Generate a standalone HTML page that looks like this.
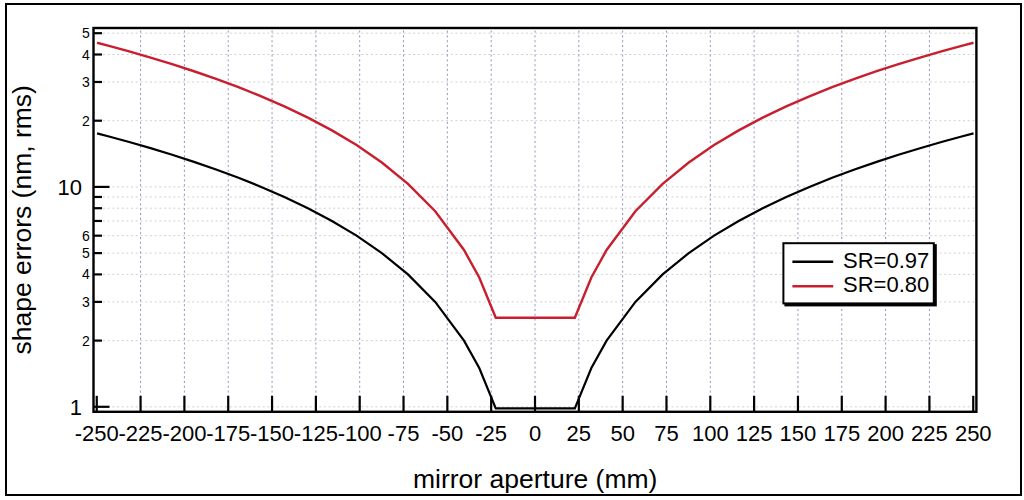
<!DOCTYPE html><html><head><meta charset="utf-8"><style>html,body{margin:0;padding:0;background:#fff;}svg{display:block;}text{font-family:"Liberation Sans",sans-serif;}</style></head><body>
<svg width="1024" height="500" viewBox="0 0 1024 500">
<rect x="0" y="0" width="1024" height="500" fill="#fff"/>
<rect x="6" y="4" width="1015" height="491" fill="none" stroke="#000" stroke-width="2"/>
<line x1="93.5" y1="406.80" x2="976.4" y2="406.80" stroke="#d0d0d4" stroke-width="1" stroke-dasharray="2 2.7"/>
<line x1="93.5" y1="340.60" x2="976.4" y2="340.60" stroke="#d0d0d4" stroke-width="1" stroke-dasharray="2 2.7"/>
<line x1="93.5" y1="301.88" x2="976.4" y2="301.88" stroke="#d0d0d4" stroke-width="1" stroke-dasharray="2 2.7"/>
<line x1="93.5" y1="274.41" x2="976.4" y2="274.41" stroke="#d0d0d4" stroke-width="1" stroke-dasharray="2 2.7"/>
<line x1="93.5" y1="253.10" x2="976.4" y2="253.10" stroke="#d0d0d4" stroke-width="1" stroke-dasharray="2 2.7"/>
<line x1="93.5" y1="235.68" x2="976.4" y2="235.68" stroke="#d0d0d4" stroke-width="1" stroke-dasharray="2 2.7"/>
<line x1="93.5" y1="220.96" x2="976.4" y2="220.96" stroke="#d0d0d4" stroke-width="1" stroke-dasharray="2 2.7"/>
<line x1="93.5" y1="208.21" x2="976.4" y2="208.21" stroke="#d0d0d4" stroke-width="1" stroke-dasharray="2 2.7"/>
<line x1="93.5" y1="196.96" x2="976.4" y2="196.96" stroke="#d0d0d4" stroke-width="1" stroke-dasharray="2 2.7"/>
<line x1="93.5" y1="186.90" x2="976.4" y2="186.90" stroke="#d0d0d4" stroke-width="1" stroke-dasharray="2 2.7"/>
<line x1="93.5" y1="120.70" x2="976.4" y2="120.70" stroke="#d0d0d4" stroke-width="1" stroke-dasharray="2 2.7"/>
<line x1="93.5" y1="81.98" x2="976.4" y2="81.98" stroke="#d0d0d4" stroke-width="1" stroke-dasharray="2 2.7"/>
<line x1="93.5" y1="54.51" x2="976.4" y2="54.51" stroke="#d0d0d4" stroke-width="1" stroke-dasharray="2 2.7"/>
<line x1="93.5" y1="33.20" x2="976.4" y2="33.20" stroke="#d0d0d4" stroke-width="1" stroke-dasharray="2 2.7"/>
<line x1="140.57" y1="28" x2="140.57" y2="411.8" stroke="#9090c0" stroke-width="1" stroke-dasharray="2 2.8" stroke-dashoffset="2.2"/>
<line x1="184.40" y1="28" x2="184.40" y2="411.8" stroke="#9090c0" stroke-width="1" stroke-dasharray="2 2.8" stroke-dashoffset="2.2"/>
<line x1="228.22" y1="28" x2="228.22" y2="411.8" stroke="#9090c0" stroke-width="1" stroke-dasharray="2 2.8" stroke-dashoffset="2.2"/>
<line x1="272.05" y1="28" x2="272.05" y2="411.8" stroke="#9090c0" stroke-width="1" stroke-dasharray="2 2.8" stroke-dashoffset="2.2"/>
<line x1="315.88" y1="28" x2="315.88" y2="411.8" stroke="#9090c0" stroke-width="1" stroke-dasharray="2 2.8" stroke-dashoffset="2.2"/>
<line x1="359.70" y1="28" x2="359.70" y2="411.8" stroke="#9090c0" stroke-width="1" stroke-dasharray="2 2.8" stroke-dashoffset="2.2"/>
<line x1="403.52" y1="28" x2="403.52" y2="411.8" stroke="#9090c0" stroke-width="1" stroke-dasharray="2 2.8" stroke-dashoffset="2.2"/>
<line x1="447.35" y1="28" x2="447.35" y2="411.8" stroke="#9090c0" stroke-width="1" stroke-dasharray="2 2.8" stroke-dashoffset="2.2"/>
<line x1="491.18" y1="28" x2="491.18" y2="411.8" stroke="#9090c0" stroke-width="1" stroke-dasharray="2 2.8" stroke-dashoffset="2.2"/>
<line x1="535.00" y1="28" x2="535.00" y2="411.8" stroke="#9090c0" stroke-width="1" stroke-dasharray="2 2.8" stroke-dashoffset="2.2"/>
<line x1="578.83" y1="28" x2="578.83" y2="411.8" stroke="#9090c0" stroke-width="1" stroke-dasharray="2 2.8" stroke-dashoffset="2.2"/>
<line x1="622.65" y1="28" x2="622.65" y2="411.8" stroke="#9090c0" stroke-width="1" stroke-dasharray="2 2.8" stroke-dashoffset="2.2"/>
<line x1="666.48" y1="28" x2="666.48" y2="411.8" stroke="#9090c0" stroke-width="1" stroke-dasharray="2 2.8" stroke-dashoffset="2.2"/>
<line x1="710.30" y1="28" x2="710.30" y2="411.8" stroke="#9090c0" stroke-width="1" stroke-dasharray="2 2.8" stroke-dashoffset="2.2"/>
<line x1="754.12" y1="28" x2="754.12" y2="411.8" stroke="#9090c0" stroke-width="1" stroke-dasharray="2 2.8" stroke-dashoffset="2.2"/>
<line x1="797.95" y1="28" x2="797.95" y2="411.8" stroke="#9090c0" stroke-width="1" stroke-dasharray="2 2.8" stroke-dashoffset="2.2"/>
<line x1="841.78" y1="28" x2="841.78" y2="411.8" stroke="#9090c0" stroke-width="1" stroke-dasharray="2 2.8" stroke-dashoffset="2.2"/>
<line x1="885.60" y1="28" x2="885.60" y2="411.8" stroke="#9090c0" stroke-width="1" stroke-dasharray="2 2.8" stroke-dashoffset="2.2"/>
<line x1="929.42" y1="28" x2="929.42" y2="411.8" stroke="#9090c0" stroke-width="1" stroke-dasharray="2 2.8" stroke-dashoffset="2.2"/>
<polyline points="97.05,133.32 108.07,136.22 129.20,142.01 150.55,148.18 172.13,154.77 193.96,161.84 216.07,169.49 238.48,177.80 261.23,186.90 284.36,196.96 307.90,208.21 331.94,220.96 356.55,235.68 381.84,253.10 407.97,274.41 435.21,301.88 464.00,340.60 479.25,368.08 495.77,408.40 574.83,408.40 591.35,368.08 606.60,340.60 635.39,301.88 662.63,274.41 688.76,253.10 714.05,235.68 738.66,220.96 762.70,208.21 786.24,196.96 809.37,186.90 832.12,177.80 854.53,169.49 876.64,161.84 898.47,154.77 920.05,148.18 941.40,142.01 962.53,136.22 973.55,133.32" fill="none" stroke="#000" stroke-width="2.2" stroke-linejoin="miter"/>
<polyline points="97.05,42.72 108.07,45.62 129.20,51.41 150.55,57.58 172.13,64.17 193.96,71.24 216.07,78.89 238.48,87.20 261.23,96.30 284.36,106.36 307.90,117.61 331.94,130.36 356.55,145.08 381.84,162.50 407.97,183.81 435.21,211.28 464.00,250.00 479.25,277.48 495.77,317.70 574.83,317.70 591.35,277.48 606.60,250.00 635.39,211.28 662.63,183.81 688.76,162.50 714.05,145.08 738.66,130.36 762.70,117.61 786.24,106.36 809.37,96.30 832.12,87.20 854.53,78.89 876.64,71.24 898.47,64.17 920.05,57.58 941.40,51.41 962.53,45.62 973.55,42.72" fill="none" stroke="#c81e2e" stroke-width="2.4" stroke-linejoin="miter"/>
<rect x="93.5" y="28" width="882.9" height="383.8" fill="none" stroke="#000" stroke-width="2.4"/>
<line x1="93.5" y1="406.80" x2="109.50" y2="406.80" stroke="#000" stroke-width="2.2"/>
<line x1="93.5" y1="340.60" x2="102.00" y2="340.60" stroke="#000" stroke-width="2.2"/>
<line x1="93.5" y1="301.88" x2="102.00" y2="301.88" stroke="#000" stroke-width="2.2"/>
<line x1="93.5" y1="274.41" x2="102.00" y2="274.41" stroke="#000" stroke-width="2.2"/>
<line x1="93.5" y1="253.10" x2="102.00" y2="253.10" stroke="#000" stroke-width="2.2"/>
<line x1="93.5" y1="235.68" x2="102.00" y2="235.68" stroke="#000" stroke-width="2.2"/>
<line x1="93.5" y1="220.96" x2="102.00" y2="220.96" stroke="#000" stroke-width="2.2"/>
<line x1="93.5" y1="208.21" x2="102.00" y2="208.21" stroke="#000" stroke-width="2.2"/>
<line x1="93.5" y1="196.96" x2="102.00" y2="196.96" stroke="#000" stroke-width="2.2"/>
<line x1="93.5" y1="186.90" x2="109.50" y2="186.90" stroke="#000" stroke-width="2.2"/>
<line x1="93.5" y1="120.70" x2="102.00" y2="120.70" stroke="#000" stroke-width="2.2"/>
<line x1="93.5" y1="81.98" x2="102.00" y2="81.98" stroke="#000" stroke-width="2.2"/>
<line x1="93.5" y1="54.51" x2="102.00" y2="54.51" stroke="#000" stroke-width="2.2"/>
<line x1="93.5" y1="33.20" x2="102.00" y2="33.20" stroke="#000" stroke-width="2.2"/>
<line x1="96.75" y1="411.8" x2="96.75" y2="395.8" stroke="#000" stroke-width="2.2"/>
<line x1="140.57" y1="411.8" x2="140.57" y2="395.8" stroke="#000" stroke-width="2.2"/>
<line x1="184.40" y1="411.8" x2="184.40" y2="395.8" stroke="#000" stroke-width="2.2"/>
<line x1="228.22" y1="411.8" x2="228.22" y2="395.8" stroke="#000" stroke-width="2.2"/>
<line x1="272.05" y1="411.8" x2="272.05" y2="395.8" stroke="#000" stroke-width="2.2"/>
<line x1="315.88" y1="411.8" x2="315.88" y2="395.8" stroke="#000" stroke-width="2.2"/>
<line x1="359.70" y1="411.8" x2="359.70" y2="395.8" stroke="#000" stroke-width="2.2"/>
<line x1="403.52" y1="411.8" x2="403.52" y2="395.8" stroke="#000" stroke-width="2.2"/>
<line x1="447.35" y1="411.8" x2="447.35" y2="395.8" stroke="#000" stroke-width="2.2"/>
<line x1="491.18" y1="411.8" x2="491.18" y2="395.8" stroke="#000" stroke-width="2.2"/>
<line x1="535.00" y1="411.8" x2="535.00" y2="395.8" stroke="#000" stroke-width="2.2"/>
<line x1="578.83" y1="411.8" x2="578.83" y2="395.8" stroke="#000" stroke-width="2.2"/>
<line x1="622.65" y1="411.8" x2="622.65" y2="395.8" stroke="#000" stroke-width="2.2"/>
<line x1="666.48" y1="411.8" x2="666.48" y2="395.8" stroke="#000" stroke-width="2.2"/>
<line x1="710.30" y1="411.8" x2="710.30" y2="395.8" stroke="#000" stroke-width="2.2"/>
<line x1="754.12" y1="411.8" x2="754.12" y2="395.8" stroke="#000" stroke-width="2.2"/>
<line x1="797.95" y1="411.8" x2="797.95" y2="395.8" stroke="#000" stroke-width="2.2"/>
<line x1="841.78" y1="411.8" x2="841.78" y2="395.8" stroke="#000" stroke-width="2.2"/>
<line x1="885.60" y1="411.8" x2="885.60" y2="395.8" stroke="#000" stroke-width="2.2"/>
<line x1="929.42" y1="411.8" x2="929.42" y2="395.8" stroke="#000" stroke-width="2.2"/>
<line x1="973.25" y1="411.8" x2="973.25" y2="395.8" stroke="#000" stroke-width="2.2"/>
<text x="82" y="414.70" font-size="22" text-anchor="end" fill="#000">1</text>
<text x="82" y="194.80" font-size="22" text-anchor="end" fill="#000">10</text>
<text x="89.8" y="345.60" font-size="14" text-anchor="end" fill="#000">2</text>
<text x="89.8" y="306.88" font-size="14" text-anchor="end" fill="#000">3</text>
<text x="89.8" y="279.41" font-size="14" text-anchor="end" fill="#000">4</text>
<text x="89.8" y="258.10" font-size="14" text-anchor="end" fill="#000">5</text>
<text x="89.8" y="240.68" font-size="14" text-anchor="end" fill="#000">6</text>
<text x="89.8" y="125.70" font-size="14" text-anchor="end" fill="#000">2</text>
<text x="89.8" y="86.98" font-size="14" text-anchor="end" fill="#000">3</text>
<text x="89.8" y="59.51" font-size="14" text-anchor="end" fill="#000">4</text>
<text x="89.8" y="38.20" font-size="14" text-anchor="end" fill="#000">5</text>
<text x="96.75" y="441" font-size="22" text-anchor="middle" fill="#000">-250</text>
<text x="140.57" y="441" font-size="22" text-anchor="middle" fill="#000">-225</text>
<text x="184.40" y="441" font-size="22" text-anchor="middle" fill="#000">-200</text>
<text x="228.22" y="441" font-size="22" text-anchor="middle" fill="#000">-175</text>
<text x="272.05" y="441" font-size="22" text-anchor="middle" fill="#000">-150</text>
<text x="315.88" y="441" font-size="22" text-anchor="middle" fill="#000">-125</text>
<text x="359.70" y="441" font-size="22" text-anchor="middle" fill="#000">-100</text>
<text x="403.52" y="441" font-size="22" text-anchor="middle" fill="#000">-75</text>
<text x="447.35" y="441" font-size="22" text-anchor="middle" fill="#000">-50</text>
<text x="491.18" y="441" font-size="22" text-anchor="middle" fill="#000">-25</text>
<text x="535.00" y="441" font-size="22" text-anchor="middle" fill="#000">0</text>
<text x="578.83" y="441" font-size="22" text-anchor="middle" fill="#000">25</text>
<text x="622.65" y="441" font-size="22" text-anchor="middle" fill="#000">50</text>
<text x="666.48" y="441" font-size="22" text-anchor="middle" fill="#000">75</text>
<text x="710.30" y="441" font-size="22" text-anchor="middle" fill="#000">100</text>
<text x="754.12" y="441" font-size="22" text-anchor="middle" fill="#000">125</text>
<text x="797.95" y="441" font-size="22" text-anchor="middle" fill="#000">150</text>
<text x="841.78" y="441" font-size="22" text-anchor="middle" fill="#000">175</text>
<text x="885.60" y="441" font-size="22" text-anchor="middle" fill="#000">200</text>
<text x="929.42" y="441" font-size="22" text-anchor="middle" fill="#000">225</text>
<text x="973.25" y="441" font-size="22" text-anchor="middle" fill="#000">250</text>
<text x="535.2" y="487.7" font-size="26.5" text-anchor="middle" fill="#000">mirror aperture (mm)</text>
<text transform="translate(30.8,219.8) rotate(-90)" x="0" y="0" font-size="26.5" text-anchor="middle" fill="#000">shape errors (nm, rms)</text>
<rect x="784.4" y="244.2" width="152.4" height="62.2" fill="#000"/>
<rect x="782.4" y="242.2" width="152.4" height="62.2" fill="#000"/>
<rect x="784.4" y="244.2" width="148.4" height="58.2" fill="#fff"/>
<line x1="792.4" y1="261.7" x2="833.2" y2="261.7" stroke="#000" stroke-width="2.6"/>
<line x1="792.4" y1="286.2" x2="833.2" y2="286.2" stroke="#c81e2e" stroke-width="2.6"/>
<text x="843" y="268.2" font-size="22" fill="#000">SR=0.97</text>
<text x="843" y="292.2" font-size="22" fill="#000">SR=0.80</text>
</svg></body></html>
